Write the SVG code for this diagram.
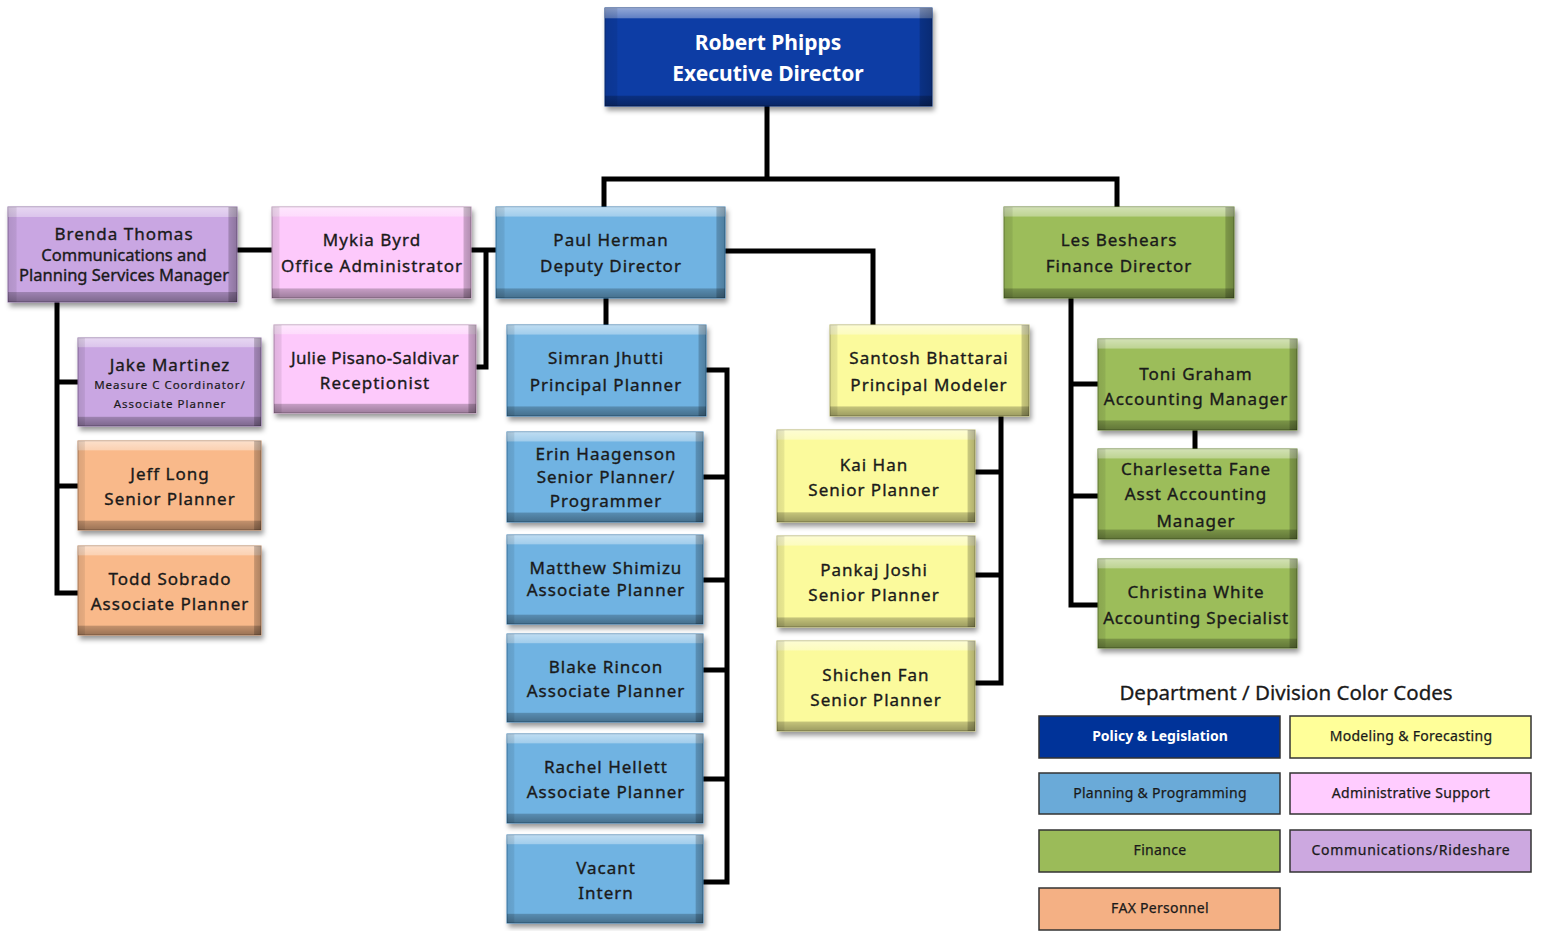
<svg xmlns="http://www.w3.org/2000/svg" width="1545" height="931" viewBox="0 0 1545 931">
<defs>
<filter id="sh" x="-10%" y="-10%" width="125%" height="130%">
<feDropShadow dx="2" dy="4" stdDeviation="2.5" flood-color="#000" flood-opacity="0.4"/>
</filter>
<linearGradient id="bv" x1="0" y1="0" x2="0" y2="1">
<stop offset="0" stop-color="#fff" stop-opacity="0.55"/>
<stop offset="0.1" stop-color="#fff" stop-opacity="0.35"/>
<stop offset="0.11" stop-color="#fff" stop-opacity="0"/>
<stop offset="0.89" stop-color="#000" stop-opacity="0"/>
<stop offset="0.9" stop-color="#000" stop-opacity="0.22"/>
<stop offset="1" stop-color="#000" stop-opacity="0.38"/>
</linearGradient>
<linearGradient id="bh" x1="0" y1="0" x2="1" y2="0">
<stop offset="0" stop-color="#000" stop-opacity="0.12"/>
<stop offset="0.035" stop-color="#000" stop-opacity="0.08"/>
<stop offset="0.04" stop-color="#000" stop-opacity="0"/>
<stop offset="0.96" stop-color="#000" stop-opacity="0"/>
<stop offset="0.965" stop-color="#000" stop-opacity="0.2"/>
<stop offset="1" stop-color="#000" stop-opacity="0.3"/>
</linearGradient>
</defs>
<style>
.box{filter:url(#sh);stroke-width:1}
.bv{fill:url(#bv);stroke:none}
.bh{fill:url(#bh);stroke:none}
.exec{fill:#0b3ea5;stroke:#082c78}
.plan{fill:#6fb3e2;stroke:#3d7fae}
.model{fill:#fbfa9c;stroke:#b5b46c}
.admin{fill:#fdc9fb;stroke:#b891b5}
.fin{fill:#9cbd5a;stroke:#6a843a}
.comm{fill:#c9a6e2;stroke:#8f70a6}
.fax{fill:#f9b98a;stroke:#b8845e}
text{font-family:"Noto Sans","Open Sans","Liberation Sans",sans-serif;font-size:17px;fill:#1a1a1a;stroke:#1a1a1a;stroke-width:0.35;text-anchor:middle;letter-spacing:1px}
.w{fill:#fff;stroke:none;font-weight:bold;font-size:21px;letter-spacing:0}
.sm{font-size:11.5px;letter-spacing:1px;stroke-width:0.2}
.conn{fill:none;stroke:#000;stroke-width:5}
.lg{stroke:#333;stroke-width:1.5}
.lt{font-size:14px;letter-spacing:0.3px;stroke-width:0.25}
</style>

<g id="connectors">
<path class="conn" d="M767,106 V179 M604,208 V179 H1117 V208"/>
<path class="conn" d="M237,250 H272"/>
<path class="conn" d="M471,250 H497 M486,250 V367 H476"/>
<path class="conn" d="M57,302 V593 H78 M57,382 H78 M57,486 H78"/>
<path class="conn" d="M606,298 V325"/>
<path class="conn" d="M725,251 H873 V325"/>
<path class="conn" d="M706,370 H727 V882 H703 M703,477 H727 M703,580 H727 M703,670 H727 M703,779 H727"/>
<path class="conn" d="M1001,416 V683 H975 M975,472 H1001 M975,575 H1001"/>
<path class="conn" d="M1071,298 V605 H1098 M1071,384 H1098 M1071,496 H1098"/>
<path class="conn" d="M1195,430 V449"/>
</g>

<g id="n-robert">
<rect class="box exec" x="605" y="8" width="327" height="98"/>
<rect class="bv" x="605" y="8" width="327" height="98"/><rect class="bh" x="605" y="8" width="327" height="98"/>
<text class="w" x="768" y="50">Robert Phipps</text>
<text class="w" x="768" y="81">Executive Director</text>
</g>

<g id="n-brenda">
<rect class="box comm" x="8" y="207" width="229" height="95"/>
<rect class="bv" x="8" y="207" width="229" height="95"/><rect class="bh" x="8" y="207" width="229" height="95"/>
<text x="124" y="240">Brenda Thomas</text>
<text x="124" y="261" style="letter-spacing:0;font-size:16.5px">Communications and</text>
<text x="124" y="281" style="letter-spacing:0;font-size:16.5px">Planning Services Manager</text>
</g>

<g id="n-mykia">
<rect class="box admin" x="272" y="207" width="199" height="91"/>
<rect class="bv" x="272" y="207" width="199" height="91"/><rect class="bh" x="272" y="207" width="199" height="91"/>
<text x="372" y="246">Mykia Byrd</text>
<text x="372" y="272">Office Administrator</text>
</g>

<g id="n-julie">
<rect class="box admin" x="274" y="325" width="202" height="88"/>
<rect class="bv" x="274" y="325" width="202" height="88"/><rect class="bh" x="274" y="325" width="202" height="88"/>
<text x="375" y="364" style="letter-spacing:0.4px">Julie Pisano-Saldivar</text>
<text x="375" y="389">Receptionist</text>
</g>

<g id="n-jake">
<rect class="box comm" x="78" y="338" width="183" height="88"/>
<rect class="bv" x="78" y="338" width="183" height="88"/><rect class="bh" x="78" y="338" width="183" height="88"/>
<text x="170" y="371">Jake Martinez</text>
<text class="sm" x="170" y="389">Measure C Coordinator/</text>
<text class="sm" x="170" y="408">Associate Planner</text>
</g>

<g id="n-jeff">
<rect class="box fax" x="78" y="441" width="183" height="89"/>
<rect class="bv" x="78" y="441" width="183" height="89"/><rect class="bh" x="78" y="441" width="183" height="89"/>
<text x="170" y="480">Jeff Long</text>
<text x="170" y="505">Senior Planner</text>
</g>

<g id="n-todd">
<rect class="box fax" x="78" y="546" width="183" height="89"/>
<rect class="bv" x="78" y="546" width="183" height="89"/><rect class="bh" x="78" y="546" width="183" height="89"/>
<text x="170" y="585">Todd Sobrado</text>
<text x="170" y="610">Associate Planner</text>
</g>

<g id="n-paul">
<rect class="box plan" x="496" y="207" width="229" height="91"/>
<rect class="bv" x="496" y="207" width="229" height="91"/><rect class="bh" x="496" y="207" width="229" height="91"/>
<text x="611" y="246">Paul Herman</text>
<text x="611" y="272">Deputy Director</text>
</g>

<g id="n-simran">
<rect class="box plan" x="507" y="325" width="199" height="91"/>
<rect class="bv" x="507" y="325" width="199" height="91"/><rect class="bh" x="507" y="325" width="199" height="91"/>
<text x="606" y="364">Simran Jhutti</text>
<text x="606" y="391">Principal Planner</text>
</g>

<g id="n-erin">
<rect class="box plan" x="507" y="432" width="196" height="90"/>
<rect class="bv" x="507" y="432" width="196" height="90"/><rect class="bh" x="507" y="432" width="196" height="90"/>
<text x="606" y="460">Erin Haagenson</text>
<text x="606" y="483">Senior Planner/</text>
<text x="606" y="507">Programmer</text>
</g>

<g id="n-matthew">
<rect class="box plan" x="507" y="535" width="196" height="89"/>
<rect class="bv" x="507" y="535" width="196" height="89"/><rect class="bh" x="507" y="535" width="196" height="89"/>
<text x="606" y="574">Matthew Shimizu</text>
<text x="606" y="596">Associate Planner</text>
</g>

<g id="n-blake">
<rect class="box plan" x="507" y="634" width="196" height="88"/>
<rect class="bv" x="507" y="634" width="196" height="88"/><rect class="bh" x="507" y="634" width="196" height="88"/>
<text x="606" y="673">Blake Rincon</text>
<text x="606" y="697">Associate Planner</text>
</g>

<g id="n-rachel">
<rect class="box plan" x="507" y="734" width="196" height="89"/>
<rect class="bv" x="507" y="734" width="196" height="89"/><rect class="bh" x="507" y="734" width="196" height="89"/>
<text x="606" y="773">Rachel Hellett</text>
<text x="606" y="798">Associate Planner</text>
</g>

<g id="n-vacant">
<rect class="box plan" x="507" y="835" width="196" height="88"/>
<rect class="bv" x="507" y="835" width="196" height="88"/><rect class="bh" x="507" y="835" width="196" height="88"/>
<text x="606" y="874">Vacant</text>
<text x="606" y="899">Intern</text>
</g>

<g id="n-santosh">
<rect class="box model" x="830" y="325" width="199" height="91"/>
<rect class="bv" x="830" y="325" width="199" height="91"/><rect class="bh" x="830" y="325" width="199" height="91"/>
<text x="929" y="364">Santosh Bhattarai</text>
<text x="929" y="391">Principal Modeler</text>
</g>

<g id="n-kai">
<rect class="box model" x="777" y="430" width="198" height="92"/>
<rect class="bv" x="777" y="430" width="198" height="92"/><rect class="bh" x="777" y="430" width="198" height="92"/>
<text x="874" y="471">Kai Han</text>
<text x="874" y="496">Senior Planner</text>
</g>

<g id="n-pankaj">
<rect class="box model" x="777" y="536" width="198" height="91"/>
<rect class="bv" x="777" y="536" width="198" height="91"/><rect class="bh" x="777" y="536" width="198" height="91"/>
<text x="874" y="576">Pankaj Joshi</text>
<text x="874" y="601">Senior Planner</text>
</g>

<g id="n-shichen">
<rect class="box model" x="777" y="641" width="198" height="90"/>
<rect class="bv" x="777" y="641" width="198" height="90"/><rect class="bh" x="777" y="641" width="198" height="90"/>
<text x="876" y="681">Shichen Fan</text>
<text x="876" y="706">Senior Planner</text>
</g>

<g id="n-les">
<rect class="box fin" x="1004" y="207" width="230" height="91"/>
<rect class="bv" x="1004" y="207" width="230" height="91"/><rect class="bh" x="1004" y="207" width="230" height="91"/>
<text x="1119" y="246">Les Beshears</text>
<text x="1119" y="272">Finance Director</text>
</g>

<g id="n-toni">
<rect class="box fin" x="1098" y="339" width="199" height="91"/>
<rect class="bv" x="1098" y="339" width="199" height="91"/><rect class="bh" x="1098" y="339" width="199" height="91"/>
<text x="1196" y="380">Toni Graham</text>
<text x="1196" y="405">Accounting Manager</text>
</g>

<g id="n-charlesetta">
<rect class="box fin" x="1098" y="449" width="199" height="90"/>
<rect class="bv" x="1098" y="449" width="199" height="90"/><rect class="bh" x="1098" y="449" width="199" height="90"/>
<text x="1196" y="475">Charlesetta Fane</text>
<text x="1196" y="500">Asst Accounting</text>
<text x="1196" y="527">Manager</text>
</g>

<g id="n-christina">
<rect class="box fin" x="1098" y="559" width="199" height="89"/>
<rect class="bv" x="1098" y="559" width="199" height="89"/><rect class="bh" x="1098" y="559" width="199" height="89"/>
<text x="1196" y="598">Christina White</text>
<text x="1196" y="624" style="letter-spacing:0.8px">Accounting Specialist</text>
</g>

<g id="legend">
<text x="1286" y="700" style="font-size:20.5px;letter-spacing:0;stroke-width:0.3">Department / Division Color Codes</text>
<rect class="lg" x="1039" y="716" width="241" height="42" fill="#003399"/>
<text class="lt" x="1160" y="741" style="fill:#fff;stroke:none;font-weight:bold;letter-spacing:0">Policy &amp; Legislation</text>
<rect class="lg" x="1290" y="716" width="241" height="42" fill="#ffff99"/>
<text class="lt" x="1411" y="741">Modeling &amp; Forecasting</text>
<rect class="lg" x="1039" y="773" width="241" height="41" fill="#6aaad8"/>
<text class="lt" x="1160" y="798">Planning &amp; Programming</text>
<rect class="lg" x="1290" y="773" width="241" height="41" fill="#ffccff"/>
<text class="lt" x="1411" y="798">Administrative Support</text>
<rect class="lg" x="1039" y="830" width="241" height="42" fill="#9bbb59"/>
<text class="lt" x="1160" y="855">Finance</text>
<rect class="lg" x="1290" y="830" width="241" height="42" fill="#cca8e0"/>
<text class="lt" x="1411" y="855" style="letter-spacing:0.7px">Communications/Rideshare</text>
<rect class="lg" x="1039" y="888" width="241" height="42" fill="#f4b084"/>
<text class="lt" x="1160" y="913">FAX Personnel</text>
</g>
</svg>
